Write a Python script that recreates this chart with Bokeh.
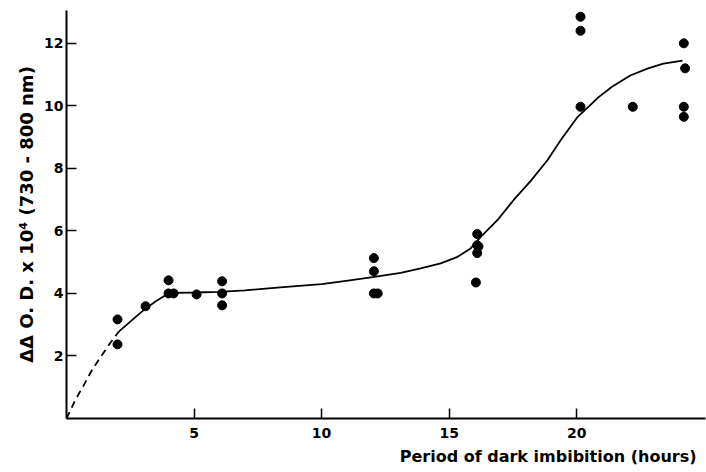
from bokeh.plotting import figure
from bokeh.models import Range1d, FixedTicker, Title
from bokeh.embed import file_html
from bokeh.resources import INLINE

# measured points: hours of dark imbibition vs ΔΔ O.D. x 10^4
pts_x = [2.0, 2.0, 3.1, 4.0, 4.0, 4.2, 5.1, 6.1, 6.1, 6.1,
         12.05, 12.05, 12.05, 12.2,
         16.1, 16.1, 16.15, 16.1, 16.05,
         20.15, 20.15, 20.15, 22.2,
         24.2, 24.25, 24.2, 24.2]
pts_y = [3.17, 2.37, 3.59, 4.42, 4.0, 4.0, 3.97, 4.39, 4.0, 3.62,
         5.13, 4.71, 4.0, 4.0,
         5.9, 5.54, 5.5, 5.29, 4.35,
         12.85, 12.4, 9.97, 9.97,
         12.0, 11.2, 9.97, 9.65]

# fitted curve (hand-drawn in original), dashed extrapolation to origin
dash_x = [0.0, 0.35, 0.7, 1.0, 1.35, 1.7, 2.05]
dash_y = [0.0, 0.6, 1.1, 1.55, 1.98, 2.4, 2.78]
curve_x = [2.05, 2.5, 3.0, 3.5, 3.9, 4.3, 5.0, 6.0, 7.0, 8.5, 10.0, 11.1, 12.0,
           13.1, 13.88, 14.67, 15.33, 15.84, 16.24, 16.9, 17.53, 18.2, 18.86,
           19.37, 20.04, 20.5, 20.86, 21.4, 22.1, 22.8, 23.4, 24.15]
curve_y = [2.78, 3.1, 3.45, 3.75, 3.95, 4.02, 4.03, 4.05, 4.1, 4.2, 4.3, 4.42, 4.52,
           4.66, 4.8, 4.96, 5.17, 5.44, 5.81, 6.35, 6.99, 7.6, 8.27,
           8.9, 9.65, 10.0, 10.28, 10.62, 10.97, 11.2, 11.35, 11.45]

x_ticks = [5, 10, 15, 20]
y_ticks = [2, 4, 6, 8, 10, 12]
x_title = "Period of dark imbibition (hours)"
y_title = "ΔΔ O. D. x 10⁴ (730 - 800 nm)"

FONT = "DejaVu Sans"

p = figure(width=706, height=472, output_backend="svg", toolbar_location=None,
           x_range=Range1d(0, 25.05), y_range=Range1d(0, 13.05),
           min_border_left=66, min_border_right=1, min_border_top=10,
           min_border_bottom=54)
p.outline_line_color = None
p.xgrid.grid_line_color = None
p.ygrid.grid_line_color = None
p.background_fill_color = "white"

p.line(dash_x, dash_y, line_color="black", line_width=1.8, line_dash="7 5")
p.line(curve_x, curve_y, line_color="black", line_width=1.8)
p.scatter(pts_x, pts_y, size=9, color="black")

for ax in (p.xaxis[0], p.yaxis[0]):
    ax.axis_line_width = 2
    ax.axis_line_color = "black"
    ax.major_tick_in = 10
    ax.major_tick_out = 0
    ax.major_tick_line_width = 1.5
    ax.minor_tick_line_color = None
    ax.major_label_text_font = FONT
    ax.major_label_text_font_style = "bold"
    ax.major_label_text_font_size = "14px"
    ax.major_label_text_color = "black"

p.xaxis[0].ticker = FixedTicker(ticks=x_ticks)
p.yaxis[0].ticker = FixedTicker(ticks=y_ticks)
p.xaxis[0].major_label_standoff = 9
p.yaxis[0].major_label_standoff = 3

p.yaxis[0].axis_label = y_title
p.yaxis[0].axis_label_text_font = FONT
p.yaxis[0].axis_label_text_font_style = "bold"
p.yaxis[0].axis_label_text_font_size = "18px"
p.yaxis[0].axis_label_standoff = 4
p.yaxis[0].axis_label_text_color = "black"

p.add_layout(Title(text=x_title, align="right", text_font=FONT,
                   text_font_style="bold", text_font_size="16px",
                   text_color="black", standoff=9, offset=9), "below")

open("out.html", "w").write(file_html(p, INLINE))
